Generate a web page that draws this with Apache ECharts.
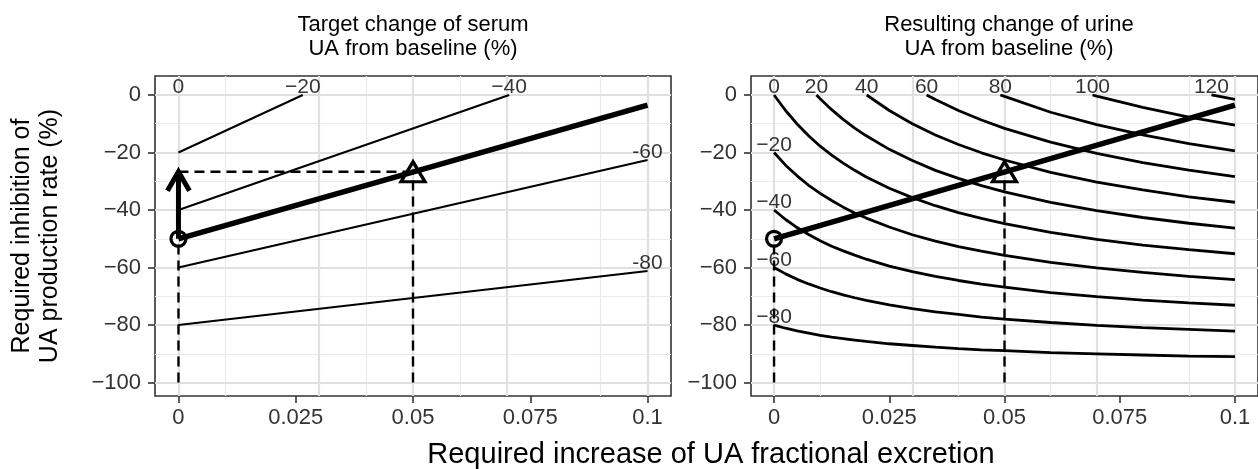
<!DOCTYPE html>
<html><head><meta charset="utf-8">
<script src="https://cdn.jsdelivr.net/npm/echarts@6/dist/echarts.min.js"></script>
<style>html,body{margin:0;padding:0;background:#fff}#c{width:1258px;height:469px}</style>
</head><body><div id="c"></div>
<script>
// ---------------- data ----------------
const xTicks = [0, 0.025, 0.05, 0.075, 0.1];
const xMinor = [0.0125, 0.0375, 0.0625, 0.0875];
const yTicks = [0, -20, -40, -60, -80, -100];
const yMinor = [-10, -30, -50, -70, -90];

// Left panel: target change of serum UA contours (straight lines)
const serumM20 = [[0, -20], [0.0265, 0]];
const serumM40 = [[0, -40], [0.0705, 0]];
const serumM60 = [[0, -60], [0.1, -22.6]];
const serumM80 = [[0, -80], [0.1, -61.2]];
const serumLabels = [
  {name: '0', value: [0, 0]},
  {name: '\u221220', value: [0.0265, 0]},
  {name: '\u221240', value: [0.0705, 0]},
  {name: '-60', value: [0.1, -22.6]},
  {name: '-80', value: [0.1, -61.2]}
];

// Highlighted path (-50 % serum), start and target points
const mainPath = [[0, -50], [0.1, -3.5]];
const startPoint = [0, -50];
const targetPoint = [0.05, -26.7];
const baseY = -100;

// Right panel: resulting change of urine UA contours
const urineD = [0, 0.0025, 0.005, 0.0075, 0.01, 0.0125, 0.015, 0.0175, 0.02, 0.025, 0.03, 0.035, 0.04, 0.045, 0.05, 0.06, 0.07, 0.08, 0.09, 0.1];
const urineM80 = [-80, -81.1, -82.0, -82.8, -83.6, -84.2, -84.7, -85.2, -85.7, -86.5, -87.1, -87.7, -88.2, -88.6, -88.9, -89.6, -90.0, -90.4, -90.8, -91.0];
const urineM60 = [-60, -62.2, -64.1, -65.7, -67.1, -68.4, -69.5, -70.5, -71.4, -73.0, -74.3, -75.4, -76.3, -77.2, -77.9, -79.1, -80.1, -80.9, -81.5, -82.1];
const urineM40 = [-40, -43.3, -46.1, -48.5, -50.7, -52.6, -54.2, -55.7, -57.1, -59.5, -61.4, -63.1, -64.5, -65.8, -66.8, -68.7, -70.1, -71.3, -72.3, -73.1];
const urineM20 = [-20, -24.4, -28.1, -31.4, -34.2, -36.7, -39.0, -41.0, -42.8, -45.9, -48.6, -50.8, -52.7, -54.3, -55.8, -58.2, -60.1, -61.7, -63.1, -64.2];
const urine0   = [0, -5.4, -10.1, -14.2, -17.8, -20.9, -23.7, -26.2, -28.5, -32.4, -35.7, -38.5, -40.9, -42.9, -44.7, -47.8, -50.2, -52.2, -53.8, -55.2];
const urineP20 = [[0.0092,0],[0.01,-1.3],[0.0125,-5.1],[0.015,-8.5],[0.0175,-11.5],[0.02,-14.2],[0.025,-18.9],[0.03,-22.8],[0.035,-26.2],[0.04,-29.0],[0.045,-31.5],[0.05,-33.7],[0.06,-37.3],[0.07,-40.2],[0.08,-42.6],[0.09,-44.6],[0.1,-46.3]];
const urineP40 = [[0.0201,0],[0.025,-5.4],[0.03,-10.0],[0.035,-13.9],[0.04,-17.2],[0.045,-20.1],[0.05,-22.6],[0.06,-26.9],[0.07,-30.3],[0.08,-33.0],[0.09,-35.4],[0.1,-37.3]];
const urineP60 = [[0.0331,0],[0.035,-1.6],[0.04,-5.4],[0.045,-8.7],[0.05,-11.6],[0.06,-16.4],[0.07,-20.3],[0.08,-23.5],[0.09,-26.1],[0.1,-28.4]];
const urineP80 = [[0.0491,0],[0.05,-0.5],[0.06,-6.0],[0.07,-10.3],[0.08,-13.9],[0.09,-16.9],[0.1,-19.4]];
const urineP100 = [[0.0691,0],[0.07,-0.4],[0.08,-4.3],[0.09,-7.7],[0.1,-10.5]];
const urineP120 = [[0.0949,0],[0.1,-1.5]];
const urineLabels = [
  {name: '0', value: [0, 0]},
  {name: '20', value: [0.0092, 0]},
  {name: '40', value: [0.0201, 0]},
  {name: '60', value: [0.0331, 0]},
  {name: '80', value: [0.0491, 0]},
  {name: '100', value: [0.0691, 0]},
  {name: '120', value: [0.0949, 0]},
  {name: '\u221220', value: [0, -20]},
  {name: '\u221240', value: [0, -40]},
  {name: '\u221260', value: [0, -60]},
  {name: '\u221280', value: [0, -80]}
];

const titleLeft = 'Target change of serum\nUA from baseline (%)';
const titleRight = 'Resulting change of urine\nUA from baseline (%)';
const xTitle = 'Required increase of UA fractional excretion';
const yTitle = 'Required inhibition of\nUA production rate (%)';

// ---------------- chart ----------------
const FONT = '"Liberation Sans", Arial, Helvetica, sans-serif';
const X_MIN = -0.005, X_MAX = 0.105, Y_MIN = -104.66, Y_MAX = 6.6;
const pair = (xs, ys) => xs.map((x, i) => [x, ys[i]]);
const fmtX = v => v === 0 ? '0' : String(+v.toFixed(4));
const fmtY = v => v < 0 ? '\u2212' + (-v) : String(v);

function xAxisCfg(g) {
  return {gridIndex: g, type: 'value', min: X_MIN, max: X_MAX, z: 10,
    axisLine: {show: false, onZero: false}, splitLine: {show: false},
    axisTick: {show: true, customValues: xTicks, length: 7, lineStyle: {color: '#333', width: 1.6}},
    axisLabel: {customValues: xTicks, formatter: fmtX, margin: 11, fontSize: 22, color: '#333', fontFamily: FONT}};
}
function yAxisCfg(g) {
  return {gridIndex: g, type: 'value', min: Y_MIN, max: Y_MAX, z: 10,
    axisLine: {show: false, onZero: false}, splitLine: {show: false},
    axisTick: {show: true, customValues: yTicks, length: 7, lineStyle: {color: '#333', width: 1.6}},
    axisLabel: {customValues: yTicks, formatter: fmtY, margin: 14, fontSize: 22, color: '#333', fontFamily: FONT}};
}
function gridLines(g) {
  const major = {color: '#e0e0e0', width: 2.2, type: 'solid'};
  const minor = {color: '#ebebeb', width: 1.2, type: 'solid'};
  const data = [].concat(
    xMinor.map(v => ({xAxis: v, lineStyle: minor})),
    yMinor.map(v => ({yAxis: v, lineStyle: minor})),
    xTicks.map(v => ({xAxis: v, lineStyle: major})),
    yTicks.map(v => ({yAxis: v, lineStyle: major})));
  return {type: 'line', xAxisIndex: g, yAxisIndex: g, data: [], z: 0, silent: true,
    markLine: {z: 0, silent: true, symbol: ['none', 'none'], label: {show: false}, animation: false, data: data}};
}
function line(g, data, width, opts) {
  return Object.assign({type: 'line', xAxisIndex: g, yAxisIndex: g, data: data, symbol: 'none', showSymbol: false,
    silent: true, z: 3, lineStyle: {color: '#000', width: width}}, opts || {});
}
function dashed(g, data) {
  return line(g, data, 2.4, {z: 2, lineStyle: {color: '#000', width: 2.4, type: [10, 6]}});
}
function labels(g, data) {
  return {type: 'scatter', xAxisIndex: g, yAxisIndex: g, data: data, symbolSize: 0.001, silent: true, z: 7,
    itemStyle: {color: 'rgba(0,0,0,0)'},
    label: {show: true, position: 'top', distance: -3, formatter: '{b}', fontSize: 21, color: '#000', fontFamily: FONT}};
}
function markers(g) {
  const st = {color: 'rgba(0,0,0,0)', borderColor: '#000', borderWidth: 3.2, opacity: 1};
  return [
    {type: 'scatter', xAxisIndex: g, yAxisIndex: g, data: [startPoint], symbol: 'circle', symbolSize: 15, z: 8, silent: true, itemStyle: st},
    {type: 'scatter', xAxisIndex: g, yAxisIndex: g, data: [targetPoint], symbol: 'triangle', symbolSize: [24, 20], z: 8, silent: true, itemStyle: st}
  ];
}

const series = [
  gridLines(0), gridLines(1),
  // left panel
  dashed(0, [[startPoint[0], baseY], startPoint]),
  dashed(0, [[targetPoint[0], baseY], targetPoint]),
  dashed(0, [[startPoint[0], targetPoint[1]], targetPoint]),
  line(0, serumM20, 2), line(0, serumM40, 2), line(0, serumM60, 2), line(0, serumM80, 2),
  line(0, mainPath, 5.5, {z: 5}),
  {type: 'custom', xAxisIndex: 0, yAxisIndex: 0, z: 6, silent: true,
    data: [[startPoint[0], startPoint[1], targetPoint[1]]],
    renderItem: function (params, api) {
      const a = api.coord([api.value(0), api.value(1)]);
      const b = api.coord([api.value(0), api.value(2)]);
      return {type: 'group', children: [
        {type: 'line', shape: {x1: a[0], y1: a[1], x2: b[0], y2: b[1] + 2}, style: {stroke: '#000', lineWidth: 5}},
        {type: 'polyline', shape: {points: [[b[0] - 11, b[1] + 19], [b[0], b[1]], [b[0] + 11, b[1] + 19]]},
          style: {stroke: '#000', lineWidth: 5, fill: null, lineJoin: 'miter'}}
      ]};
    }},
  labels(0, serumLabels),
  ...markers(0),
  // right panel
  dashed(1, [[startPoint[0], baseY], startPoint]),
  dashed(1, [[targetPoint[0], baseY], targetPoint]),
  ...[urineM80, urineM60, urineM40, urineM20, urine0].map(a => line(1, pair(urineD, a), 2.8)),
  ...[urineP20, urineP40, urineP60, urineP80, urineP100, urineP120].map(a => line(1, a, 2.8)),
  line(1, mainPath, 5.5, {z: 5}),
  labels(1, urineLabels),
  ...markers(1)
];

const chart = echarts.init(document.getElementById('c'), null, {renderer: 'canvas'});
chart.setOption({
  animation: false,
  backgroundColor: '#fff',
  grid: [
    {left: 155, top: 76, width: 516, height: 320, show: true, borderColor: '#333', borderWidth: 1.6, backgroundColor: 'transparent'},
    {left: 751, top: 76, width: 516, height: 320, show: true, borderColor: '#333', borderWidth: 1.6, backgroundColor: 'transparent'}
  ],
  xAxis: [xAxisCfg(0), xAxisCfg(1)],
  yAxis: [yAxisCfg(0), yAxisCfg(1)],
  series: series,
  graphic: [
    {type: 'text', x: 413, y: 37, style: {text: titleLeft, textAlign: 'center', textVerticalAlign: 'middle', fontSize: 22, lineHeight: 24, fontFamily: FONT, fill: '#000'}},
    {type: 'text', x: 1009, y: 37, style: {text: titleRight, textAlign: 'center', textVerticalAlign: 'middle', fontSize: 22, lineHeight: 24, fontFamily: FONT, fill: '#000'}},
    {type: 'text', x: 711, y: 455, style: {text: xTitle, textAlign: 'center', textVerticalAlign: 'middle', fontSize: 29, fontFamily: FONT, fill: '#000'}},
    {type: 'text', x: 36, y: 236, rotation: Math.PI / 2, style: {text: yTitle, textAlign: 'center', textVerticalAlign: 'middle', fontSize: 25, lineHeight: 28, fontFamily: FONT, fill: '#000'}}
  ]
});
</script></body></html>
